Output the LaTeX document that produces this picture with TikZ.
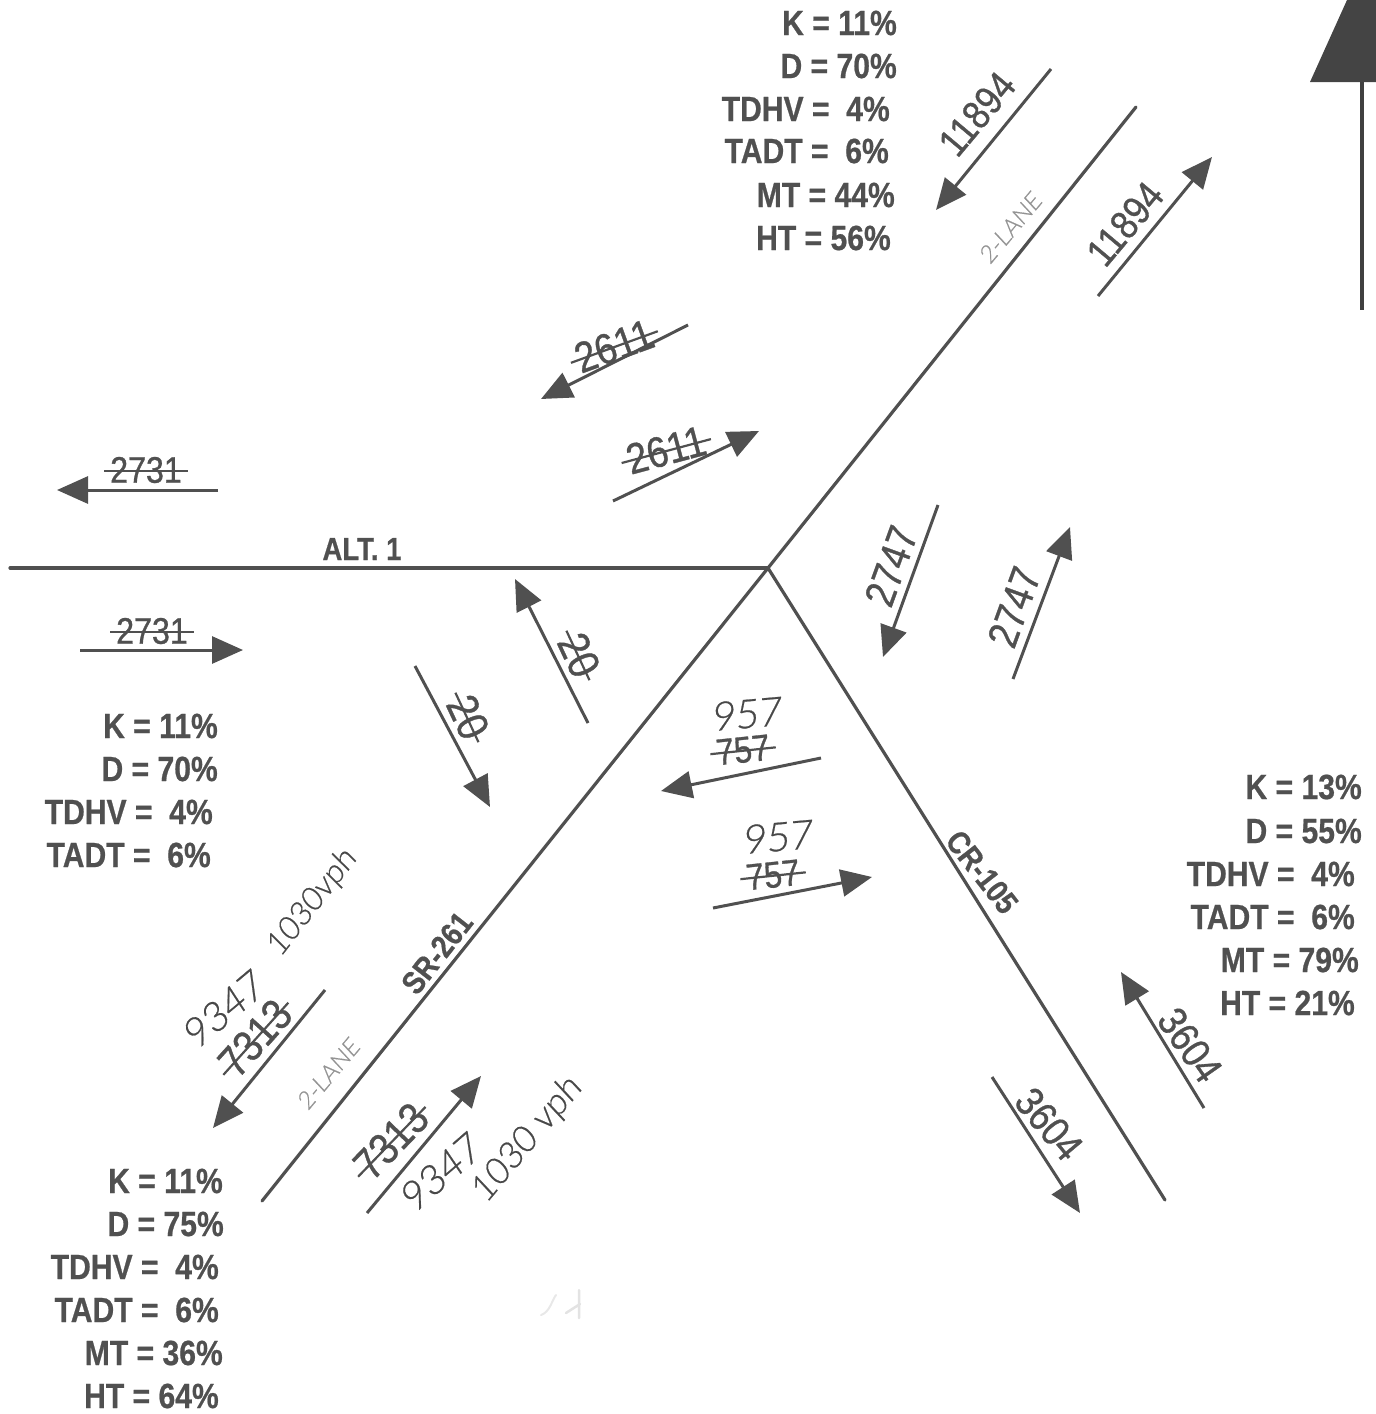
\documentclass[tikz,border=0pt]{standalone}
\usepackage{fontspec}
\usetikzlibrary{arrows.meta}
\setmainfont{Liberation Sans}
\newfontfamily\labfont[FakeStretch=0.86,FakeBold=0.6]{Liberation Sans Bold}
\newfontfamily\numfont[FakeStretch=0.87,FakeBold=0.8]{Liberation Sans}
\newfontfamily\handfont[FakeSlant=0.12,FakeBold=0.5]{Lato Light}
\definecolor{ink}{HTML}{505050}
\definecolor{handink}{HTML}{484848}
\newcommand{\strk}[1]{\setbox0\hbox{#1}\rlap{\kern-6pt\raisebox{.42\ht0}{\rule{\dimexpr\wd0+12pt\relax}{2.2pt}}}\box0}
\tikzset{
  x=1pt,y=-1pt,
  road/.style={draw=ink,line width=3.2pt,line cap=round},
  flow/.style={draw=ink,line width=3pt,-{Triangle[length=31pt,width=27pt]}},
  stat/.style={anchor=east,text=ink,inner sep=0pt,font={\labfont\fontsize{35}{35}\selectfont}},
  num/.style={text=ink,inner sep=0pt,font={\numfont\fontsize{#1}{#1}\selectfont}},
  num/.default=40,
  roadname/.style={text=ink,inner sep=0pt,font={\labfont\fontsize{32}{32}\selectfont}},
  hand/.style={text=handink,inner sep=0pt,font={\handfont\fontsize{#1}{#1}\selectfont}},
  hand/.default=40,
  handsmall/.style={text=gray!85,inner sep=0pt,font={\handfont\fontsize{24}{24}\selectfont}},
}
\begin{document}
\begin{tikzpicture}
\useasboundingbox (0,0) rectangle (1376,1414);
% junction and road ends
\coordinate (J) at (768,568);
\coordinate (W) at (10,568);
\coordinate (NE) at (1136,107);
\coordinate (SW) at (262,1201);
\coordinate (SE) at (1165,1200);
\draw[road] (W) -- (J);
\draw[road] (SW) -- (J);
\draw[road] (J) -- (NE);
\draw[road] (J) -- (SE);
% north arrow
\coordinate (Ntop) at (1362,82);
\coordinate (Nend) at (1362,310);
\fill[ink!85!black] (1310,82) -- (1347,0) -- (1376,0) -- (1376,82) -- cycle;
\draw[draw=black!75,line width=3.2pt] (Ntop) -- (Nend);
% faint smudge
\draw[gray!18,line width=2pt,line cap=round] (541,1315) .. controls (550,1312) and (552,1300) .. (556,1295);
\draw[gray!22,line width=2.5pt,line cap=round] (566,1313) -- (580,1304) (579,1290) -- (579,1318);
% flow arrows
\coordinate (a1s) at (1051,69);   \coordinate (a1e) at (936,210);
\coordinate (a2s) at (1098,296);  \coordinate (a2e) at (1212,157);
\coordinate (a3s) at (688,325);   \coordinate (a3e) at (541,399);
\coordinate (a4s) at (613,501);   \coordinate (a4e) at (759,431);
\coordinate (a5s) at (218,490);   \coordinate (a5e) at (57,490);
\coordinate (a6s) at (80,650);    \coordinate (a6e) at (243,650);
\coordinate (a7s) at (938,505);   \coordinate (a7e) at (883,657);
\coordinate (a8s) at (1013,679);  \coordinate (a8e) at (1070,527);
\coordinate (a9s) at (588,723);   \coordinate (a9e) at (515,579);
\coordinate (a10s) at (415,666);  \coordinate (a10e) at (490,807);
\coordinate (a11s) at (821,758);  \coordinate (a11e) at (661,791);
\coordinate (a12s) at (713,908);  \coordinate (a12e) at (872,877);
\coordinate (a13s) at (325,990);  \coordinate (a13e) at (213,1128);
\coordinate (a14s) at (367,1213); \coordinate (a14e) at (481,1076);
\coordinate (a15s) at (1204,1108);\coordinate (a15e) at (1121,972);
\coordinate (a16s) at (992,1077); \coordinate (a16e) at (1080,1213);
\foreach \i in {1,...,16}{\draw[flow] (a\i s) -- (a\i e);}
% statistics: top
\node[stat] (t1) at (897,23) {K = 11\%};
\node[stat] (t2) at (897,66) {D = 70\%};
\node[stat] (t3) at (890,109) {TDHV =\ \ 4\%};
\node[stat] (t4) at (889,151) {TADT =\ \ 6\%};
\node[stat] (t5) at (895,195) {MT = 44\%};
\node[stat] (t6) at (891,238) {HT = 56\%};
% statistics: left
\node[stat] (l1) at (218,726) {K = 11\%};
\node[stat] (l2) at (218,769) {D = 70\%};
\node[stat] (l3) at (213,812) {TDHV =\ \ 4\%};
\node[stat] (l4) at (211,855) {TADT =\ \ 6\%};
% statistics: right
\node[stat] (r1) at (1362,787) {K = 13\%};
\node[stat] (r2) at (1362,831) {D = 55\%};
\node[stat] (r3) at (1355,874) {TDHV =\ \ 4\%};
\node[stat] (r4) at (1355,917) {TADT =\ \ 6\%};
\node[stat] (r5) at (1359,960) {MT = 79\%};
\node[stat] (r6) at (1355,1003) {HT = 21\%};
% statistics: bottom
\node[stat] (b1) at (223,1181) {K = 11\%};
\node[stat] (b2) at (224,1224) {D = 75\%};
\node[stat] (b3) at (219,1267) {TDHV =\ \ 4\%};
\node[stat] (b4) at (219,1310) {TADT =\ \ 6\%};
\node[stat] (b5) at (223,1353) {MT = 36\%};
\node[stat] (b6) at (219,1396) {HT = 64\%};
% road names
\node[roadname] (alt) at (362,549) {ALT. 1};
\node[roadname,rotate=-52] (cr) at (982,872) {CR-105};
\node[roadname,rotate=52] (sr) at (437,953) {SR-261};
\node[handsmall,rotate=50] (lane1) at (1010,228) {2-LANE};
\node[handsmall,rotate=50] (lane2) at (328,1074) {2-LANE};
% counts
\node[num,rotate=50] (n1) at (977,114) {11894};
\node[num,rotate=50] (n2) at (1125,224) {11894};
\node[num=43,rotate=20] (n3) at (614,346) {\strk{2611}};
\node[num=43,rotate=15] (n4) at (666,450) {\strk{2611}};
\node[num=37] (n5) at (146,470) {\strk{2731}};
\node[num=37] (n6) at (152,631) {\strk{2731}};
\node[num=42,rotate=70] (n7) at (891,566) {2747};
\node[num=42,rotate=70] (n8) at (1014,607) {2747};
\node[num=44,rotate=-65] (n9) at (579,655) {\strk{20}};
\node[num=44,rotate=-65] (n10) at (468,717) {\strk{20}};
\node[num=37,rotate=6] (n11) at (743,750) {\strk{757}};
\node[num=37,rotate=6] (n12) at (773,875) {\strk{757}};
\node[num=44,rotate=48] (n13) at (255,1038) {\strk{7313}};
\node[num=44,rotate=46] (n14) at (391,1141) {\strk{7313}};
\node[num=41,rotate=-55] (n15) at (1190,1045) {3604};
\node[num=41,rotate=-50] (n16) at (1049,1124) {3604};
% handwritten revisions
\node[hand,rotate=5] (h1) at (746,714) {957};
\node[hand,rotate=5] (h2) at (777,837) {957};
\node[hand,rotate=40] (h3) at (223,1010) {9347};
\node[hand=32,rotate=52] (h4) at (312,903) {1030vph};
\node[hand,rotate=41] (h5) at (440,1173) {9347};
\node[hand=36,rotate=50] (h6) at (527,1140) {1030 vph};
\end{tikzpicture}
\end{document}
